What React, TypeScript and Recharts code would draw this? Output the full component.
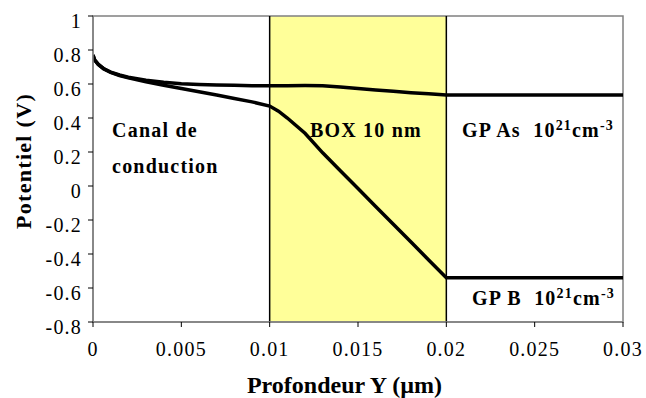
import React from "react";
import {
  LineChart,
  Line,
  XAxis,
  YAxis,
  ReferenceArea,
  ReferenceLine,
  ReferenceDot,
  Label,
} from "recharts";

const depthX = [0, 0.0001, 0.0003, 0.0006, 0.001, 0.0015, 0.002, 0.003, 0.004, 0.005, 0.006, 0.007, 0.008, 0.009, 0.01, 0.0105, 0.011, 0.012, 0.013, 0.014, 0.015, 0.016, 0.017, 0.018, 0.019, 0.02, 0.025, 0.03];
const potentialAs = [0.77, 0.74, 0.715, 0.69, 0.67, 0.653, 0.64, 0.622, 0.61, 0.602, 0.597, 0.594, 0.592, 0.59, 0.589, 0.589, 0.59, 0.591, 0.59, 0.582, 0.573, 0.565, 0.557, 0.549, 0.542, 0.536, 0.536, 0.536];
const potentialB = [0.77, 0.74, 0.715, 0.69, 0.668, 0.65, 0.636, 0.613, 0.593, 0.573, 0.554, 0.535, 0.515, 0.495, 0.47, 0.44, 0.4, 0.31, 0.195, 0.09, -0.015, -0.12, -0.225, -0.33, -0.435, -0.54, -0.54, -0.54];

const xTicks = [0, 0.005, 0.01, 0.015, 0.02, 0.025, 0.03];
const yTicks = [-0.8, -0.6, -0.4, -0.2, 0, 0.2, 0.4, 0.6, 0.8, 1];
const boxRange = [0.01, 0.02];

const annotations = [
  { x: 0.00108, y: 0.288, text: "Canal de", sup1: "", tail: "", sup2: "" },
  { x: 0.00108, y: 0.0765, text: "conduction", sup1: "", tail: "", sup2: "" },
  { x: 0.01228, y: 0.288, text: "BOX 10 nm", sup1: "", tail: "", sup2: "" },
  { x: 0.02089, y: 0.288, text: "GP As  10", sup1: "21", tail: "cm", sup2: "-3" },
  { x: 0.02145, y: -0.7, text: "GP B  10", sup1: "21", tail: "cm", sup2: "-3" },
];

const data = depthX.map((x, i) => ({ x, as: potentialAs[i], b: potentialB[i] }));

const FONT = "Liberation Serif";

const XTick = (props: any) => {
  const { x, y, payload } = props;
  return (
    <text x={x} y={y} dy="0.71em" textAnchor="middle" style={{ fontFamily: FONT, fontSize: 20, letterSpacing: 1.2 }} fill="#000">
      {String(payload.value)}
    </text>
  );
};

const YTick = (props: any) => {
  const { x, y, payload } = props;
  return (
    <text x={x} y={y + 5} dy="0.355em" textAnchor="end" style={{ fontFamily: FONT, fontSize: 20, letterSpacing: 1.2 }} fill="#000">
      {String(payload.value)}
    </text>
  );
};

const YTitle = (props: any) => {
  const vb = props.viewBox || { x: 0, y: 16, width: 93, height: 306 };
  const cx = 23;
  const cy = vb.y + vb.height / 2 - 8;
  return (
    <text
      x={cx}
      y={cy}
      transform={`rotate(-90, ${cx}, ${cy})`}
      textAnchor="middle"
      dominantBaseline="central"
      style={{ fontFamily: FONT, fontWeight: "bold", fontSize: 22, letterSpacing: 1.3 }}
      fill="#000"
    >
      Potentiel (V)
    </text>
  );
};

const XTitle = (props: any) => {
  const vb = props.viewBox || { x: 93, y: 322, width: 530, height: 76 };
  return (
    <text
      x={vb.x + vb.width / 2 - 13.5}
      y={vb.y + vb.height - 5}
      textAnchor="middle"
      style={{ fontFamily: FONT, fontWeight: "bold", fontSize: 24 }}
      fill="#000"
    >
      Profondeur Y (µm)
    </text>
  );
};

const makeAnno = (a: any) => (props: any) => {
  const vb = props.viewBox || { x: 0, y: 0 };
  const x = vb.x + (vb.width || 0) / 2;
  const y = vb.y + (vb.height || 0) / 2;
  return (
    <text x={x} y={y} textAnchor="start" style={{ fontFamily: FONT, fontWeight: "bold", fontSize: 20, letterSpacing: 1.2, whiteSpace: "pre" }} fill="#000">
      <tspan>{a.text}</tspan>
      {a.sup1 ? (
        <tspan dy={-7} style={{ fontSize: 14 }}>
          {a.sup1}
        </tspan>
      ) : null}
      {a.tail ? <tspan dy={7}>{a.tail}</tspan> : null}
      {a.sup2 ? (
        <tspan dy={-7} style={{ fontSize: 14 }}>
          {a.sup2}
        </tspan>
      ) : null}
    </text>
  );
};

export default function App() {
  return (
    <div style={{ position: "absolute", left: 0, top: 0, width: 646, height: 398, background: "#fff" }}>
      <LineChart width={646} height={398} data={data} margin={{ top: 16, right: 23, bottom: 0, left: 0 }}>
        <XAxis
          dataKey="x"
          type="number"
          domain={[0, 0.03]}
          ticks={xTicks}
          interval={0}
          height={76}
          tickSize={5}
          tickMargin={15}
          tick={<XTick />}
          axisLine={{ stroke: "#808080", strokeWidth: 1.5 }}
          tickLine={{ stroke: "#000", strokeWidth: 1 }}
          allowDataOverflow
        >
          <Label content={<XTitle />} />
        </XAxis>
        <YAxis
          type="number"
          domain={[-0.8, 1]}
          ticks={yTicks}
          interval={0}
          width={93}
          tickSize={5}
          tickMargin={6}
          tick={<YTick />}
          axisLine={{ stroke: "#808080", strokeWidth: 1.5 }}
          tickLine={{ stroke: "#000", strokeWidth: 1 }}
          allowDataOverflow
        >
          <Label content={<YTitle />} />
        </YAxis>
        <ReferenceArea x1={boxRange[0]} x2={boxRange[1]} y1={-0.8} y2={1} fill="#ffff99" fillOpacity={1} stroke="none" />
        <ReferenceArea x1={0} x2={0.03} y1={-0.8} y2={1} fill="none" stroke="#808080" strokeWidth={1.5} />
        <ReferenceLine x={boxRange[0]} stroke="#000" strokeWidth={1.5} />
        <ReferenceLine x={boxRange[1]} stroke="#000" strokeWidth={1.5} />
        <Line type="linear" dataKey="as" stroke="#000" strokeWidth={3.5} dot={false} isAnimationActive={false} />
        <Line type="linear" dataKey="b" stroke="#000" strokeWidth={3.5} dot={false} isAnimationActive={false} />
        {annotations.map((a, i) => (
          <ReferenceDot key={i} x={a.x} y={a.y} r={0} fill="none" stroke="none" label={{ content: makeAnno(a) }} />
        ))}
      </LineChart>
    </div>
  );
}
